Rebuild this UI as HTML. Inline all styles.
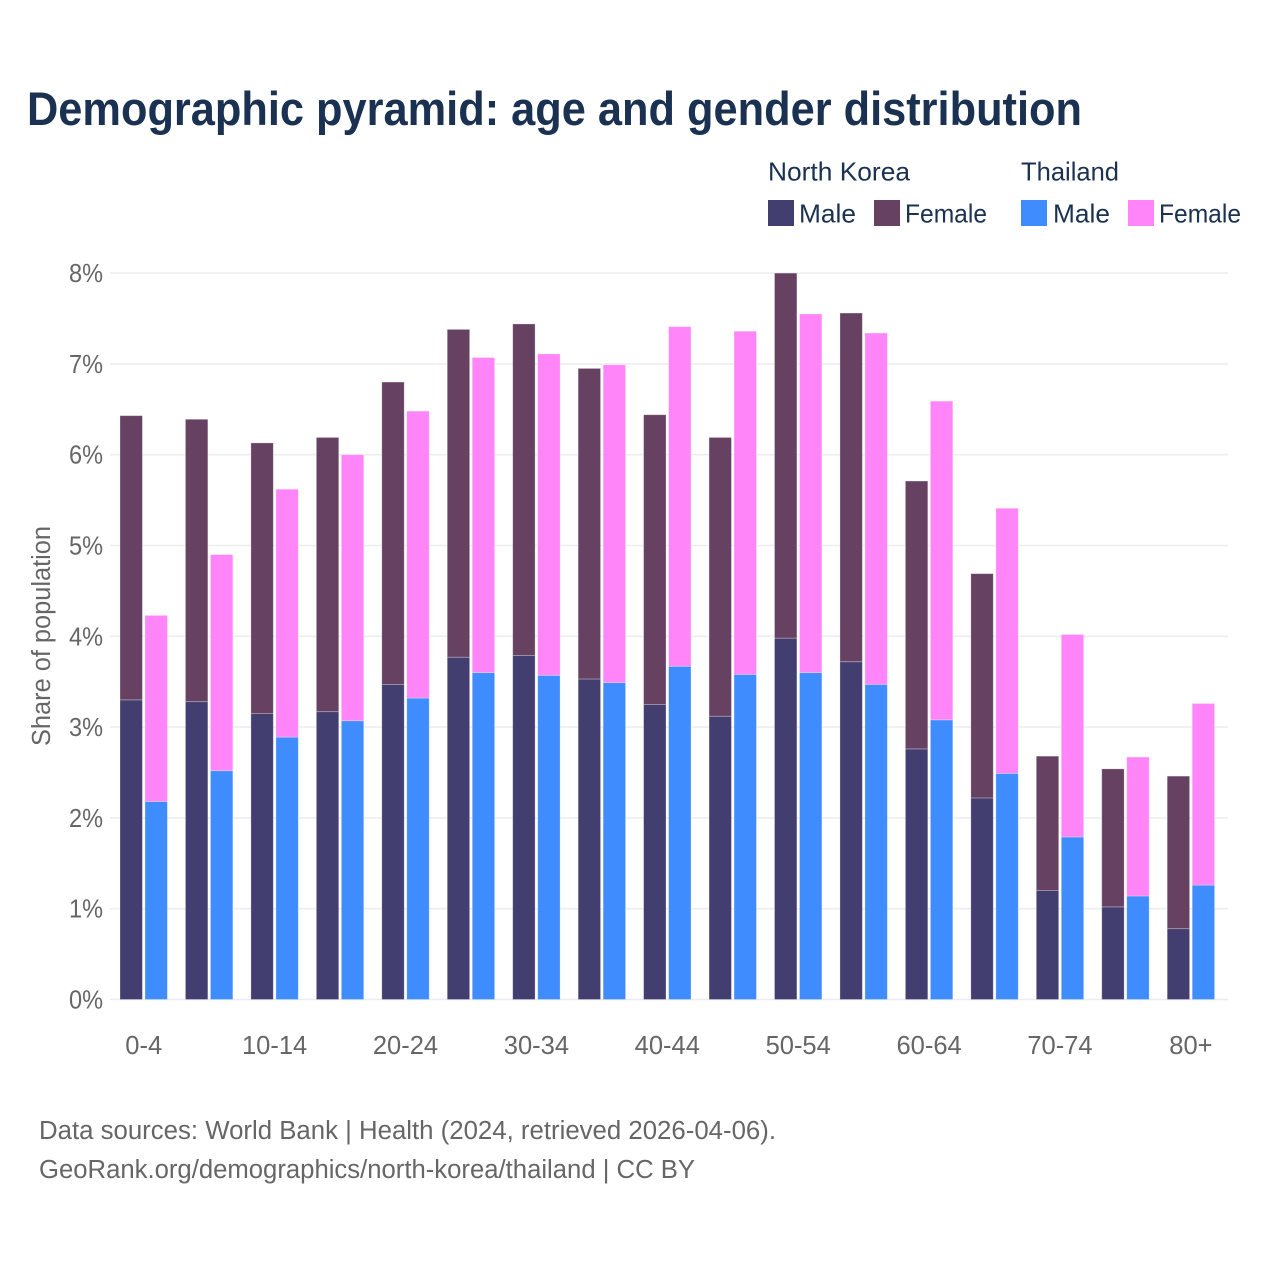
<!DOCTYPE html>
<html lang="en">
<head>
<meta charset="utf-8">
<title>Demographic pyramid</title>
<style>
  html, body { margin: 0; padding: 0; background: #fff; }
  svg { display: block; font-family: "Liberation Sans", sans-serif; }
  .legend-text { font-size: 26px; fill: #1a3152; }
  .axis-text { font-size: 25.5px; fill: #666; }
</style>
</head>
<body>
<svg id="chart" width="1280" height="1280" viewBox="0 0 1280 1280" xmlns="http://www.w3.org/2000/svg">
  <rect width="1280" height="1280" fill="#ffffff"/>
  <text x="27" y="125" font-size="47" font-weight="700" fill="#1a3152" textLength="1055" lengthAdjust="spacingAndGlyphs">Demographic pyramid: age and gender distribution</text>

  <g>
    <text class="legend-text" x="768" y="180.5" textLength="142" lengthAdjust="spacingAndGlyphs">North Korea</text>
    <text class="legend-text" x="1021" y="180.5" textLength="98" lengthAdjust="spacingAndGlyphs">Thailand</text>
    <rect x="768" y="200" width="26" height="26" fill="#423e70"/>
    <text class="legend-text" x="799" y="222.5" textLength="57" lengthAdjust="spacingAndGlyphs">Male</text>
    <rect x="874" y="200" width="26" height="26" fill="#674162"/>
    <text class="legend-text" x="905" y="222.5" textLength="82" lengthAdjust="spacingAndGlyphs">Female</text>
    <rect x="1021" y="200" width="26" height="26" fill="#3f8cff"/>
    <text class="legend-text" x="1053" y="222.5" textLength="57" lengthAdjust="spacingAndGlyphs">Male</text>
    <rect x="1128" y="200" width="26" height="26" fill="#ff85f8"/>
    <text class="legend-text" x="1159" y="222.5" textLength="82" lengthAdjust="spacingAndGlyphs">Female</text>
  </g>

  <g id="grid"></g>
  <g id="yticks"></g>
  <g id="bars"></g>
  <g id="xticks"></g>

  <text class="axis-text" transform="translate(50 636) rotate(-90)" text-anchor="middle" textLength="220" lengthAdjust="spacingAndGlyphs">Share of population</text>

  <text class="axis-text" x="39" y="1139" textLength="737" lengthAdjust="spacingAndGlyphs">Data sources: World Bank | Health (2024, retrieved 2026-04-06).</text>
  <text class="axis-text" x="39" y="1178" textLength="656" lengthAdjust="spacingAndGlyphs">GeoRank.org/demographics/north-korea/thailand | CC BY</text>
</svg>
<script>
const categories = ["0-4","5-9","10-14","15-19","20-24","25-29","30-34","35-39","40-44","45-49","50-54","55-59","60-64","65-69","70-74","75-79","80+"];
const xTickLabels = ["0-4","10-14","20-24","30-34","40-44","50-54","60-64","70-74","80+"];
const yTickValues = [0,1,2,3,4,5,6,7,8];
const northKoreaMale = [3.30,3.28,3.15,3.17,3.47,3.77,3.79,3.53,3.25,3.12,3.98,3.72,2.76,2.22,1.20,1.02,0.78];
const northKoreaFemale = [3.13,3.11,2.98,3.02,3.33,3.61,3.65,3.42,3.19,3.07,4.02,3.84,2.95,2.47,1.48,1.52,1.68];
const thailandMale = [2.18,2.52,2.89,3.07,3.32,3.60,3.57,3.49,3.67,3.58,3.60,3.47,3.08,2.49,1.79,1.14,1.26];
const thailandFemale = [2.05,2.38,2.73,2.93,3.16,3.47,3.54,3.50,3.74,3.78,3.95,3.87,3.51,2.92,2.23,1.53,2.00];

const NS = "http://www.w3.org/2000/svg";
const plotLeft = 110, plotRight = 1228;
function yScale(v) { return 999.5 - v * 90.8; }
function xBand(i) { return 120 + i * 65.45; }
const barWidth = 22.4, barOffset = 25;

function make(tag, attrs, parent) {
  const el = document.createElementNS(NS, tag);
  for (const k in attrs) el.setAttribute(k, attrs[k]);
  parent.appendChild(el);
  return el;
}

const gridG = document.getElementById("grid");
const yG = document.getElementById("yticks");
yTickValues.forEach(function (v) {
  const line = make("line", {x1: plotLeft, x2: plotRight, y1: yScale(v), y2: yScale(v), stroke: v === 0 ? "#ebebf2" : "#eeeeee", "stroke-width": 1.6}, gridG);
  
  
  const t = make("text", {x: 103, y: yScale(v) + 9, "text-anchor": "end", "class": "axis-text", textLength: 34, lengthAdjust: "spacingAndGlyphs"}, yG);
  
  
  t.textContent = v + "%";
});

function drawBar(x, base, value, color, name) {
  const top = yScale(base + value);
  const r = make("rect", {x: x, y: top, width: barWidth, height: yScale(base) - top, fill: color, stroke: "rgba(255,255,255,0.35)", "stroke-width": 0.8}, barsG);
  
  
}

const barsG = document.getElementById("bars");
categories.forEach(function (c, i) {
  const x = xBand(i);
  drawBar(x, 0, northKoreaMale[i], "#423e70", "bar-north-korea-male-" + c);
  drawBar(x, northKoreaMale[i], northKoreaFemale[i], "#674162", "bar-north-korea-female-" + c);
  drawBar(x + barOffset, 0, thailandMale[i], "#3f8cff", "bar-thailand-male-" + c);
  drawBar(x + barOffset, thailandMale[i], thailandFemale[i], "#ff85f8", "bar-thailand-female-" + c);
});

const xG = document.getElementById("xticks");
xTickLabels.forEach(function (label) {
  const i = categories.indexOf(label);
  const t = make("text", {x: xBand(i) + (barOffset + barWidth) / 2, y: 1054, "text-anchor": "middle", "class": "axis-text"}, xG);
  
  
  t.textContent = label;
});
</script>
</body>
</html>
